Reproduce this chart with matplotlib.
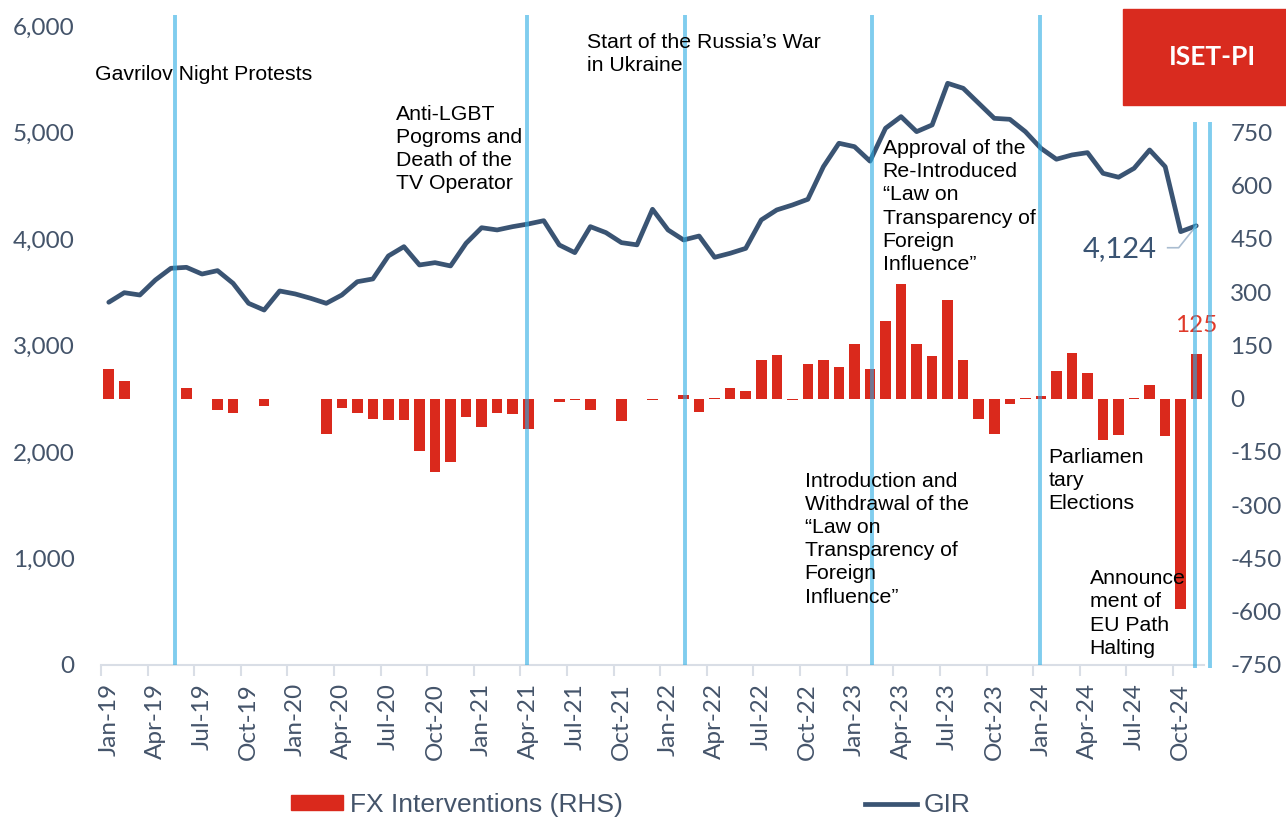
import numpy as np
import pandas as pd
import matplotlib.pyplot as plt
from matplotlib.lines import Line2D
from matplotlib.patches import Patch, Rectangle

plt.rcParams['font.family'] = ['Lato', 'DejaVu Sans']
plt.rcParams['axes.unicode_minus'] = False

# monthly data, Jan-19 .. Nov-24
months = pd.date_range("2019-01-01", periods=71, freq="MS").strftime("%b-%y").tolist()

gir = [3406, 3496, 3474, 3615, 3725, 3734, 3671, 3703, 3584, 3396,
       3333, 3512, 3484, 3443, 3396, 3474, 3599, 3625, 3841, 3928,
       3756, 3778, 3747, 3960, 4106, 4085, 4116, 4141, 4172, 3944,
       3872, 4116, 4060, 3966, 3945, 4279, 4085, 3991, 4028, 3828,
       3866, 3912, 4179, 4273, 4319, 4373, 4679, 4899, 4867, 4731,
       5040, 5149, 5008, 5071, 5462, 5415, 5274, 5133, 5124, 5008,
       4852, 4749, 4789, 4811, 4617, 4580, 4664, 4836, 4679, 4069,
       4124]

fx = [85, 50, 0, 0, 0, 29, 0, -33, -40, 0,
      -21, 0, 0, 0, -100, -25, -40, -56, -60, -60,
      -146, -205, -177, -51, -80, -40, -44, -84, 0, -9,
      -4, -31, 0, -62, -2, -3, -1, 11, -38, 3,
      31, 23, 110, 124, -4, 99, 110, 90, 155, 85,
      220, 322, 155, 120, 278, 110, -56, -99, -15, 2,
      8, 77, 128, 72, -117, -101, 2, 40, -106, -592,
      125]

# event markers (month index) and their labels
event_x = [4.24, 26.93, 37.12, 49.13, 59.92, 69.94, 70.91]
events = [
    (-0.89, 5540, "Gavrilov Night Protests"),
    (18.48, 4845, "Anti-LGBT\nPogroms and\nDeath of the\nTV Operator"),
    (30.77, 5737, "Start of the Russia\u2019s War\nin Ukraine"),
    (49.82, 4305, "Approval of the\nRe-Introduced\n\u201cLaw on\nTransparency of\nForeign\nInfluence\u201d"),
    (44.80, 1183, "Introduction and\nWithdrawal of the\n\u201cLaw on\nTransparency of\nForeign\nInfluence\u201d"),
    (60.50, 1732, "Parliamen\ntary\nElections"),
    (63.14, 484, "Announce\nment of\nEU Path\nHalting"),
]

navy = '#3A5473'
red = '#DA291C'
grey_txt = '#44546A'
axis_col = '#D9DEE6'

fig = plt.figure(figsize=(12.86, 8.17), dpi=100)
ax = fig.add_axes([0.07854, 0.18605, 0.8577, 0.78213])
ax2 = ax.twinx()

x = np.arange(len(months))
ax2.bar(x, fx, width=0.68, color=red, linewidth=0)
ax.plot(x, gir, color=navy, lw=3.4, solid_joinstyle='round',
        solid_capstyle='round', zorder=3)
ax.set_zorder(ax2.get_zorder() + 1)
ax.patch.set_visible(False)

ax.set_xlim(-0.5, len(months) - 0.5)
ax.set_ylim(0, 6000)
ax2.set_ylim(-750, 1050)

lticks = list(range(0, 6001, 1000))
ax.set_yticks(lticks)
ax.set_yticklabels([f'{v:,}' for v in lticks])
rticks = list(range(-750, 751, 150))
ax2.set_yticks(rticks)
ax2.set_yticklabels([str(v) for v in rticks])

ax.set_xticks(x[::3])
ax.set_xticklabels(months[::3], rotation=90, va='top', ha='center')
ax.set_xticks(x[::3] - 0.5, minor=True)
ax.tick_params(axis='x', which='major', length=0, pad=13, labelsize=17.5, colors=grey_txt)
ax.tick_params(axis='x', which='minor', length=8, width=1.5, color=axis_col)
ax.tick_params(axis='y', length=0, pad=19, labelsize=17.5, colors=grey_txt)
ax2.tick_params(axis='y', length=0, pad=19, labelsize=17.5, colors=grey_txt)

for s in ['top', 'left', 'right']:
    ax.spines[s].set_visible(False)
ax.spines['bottom'].set_color(axis_col)
ax.spines['bottom'].set_linewidth(1.5)
for s in ax2.spines.values():
    s.set_visible(False)

# event lines
ax.vlines(event_x[:5], 0, 6103, colors='#2BACE3', alpha=0.6, lw=2.8,
          clip_on=False, zorder=4)
ax.vlines(event_x[5:], -28, 5099, colors='#2BACE3', alpha=0.6, lw=2.8,
          clip_on=False, zorder=4)

for ex, ey, txt in events:
    ax.text(ex, ey, txt, fontsize=15.3, family='Liberation Sans', ha='left',
            va='center', linespacing=1.28, color='black', zorder=5)

# last value labels
ax.plot([68.16, 68.87, x[-1]], [3918, 3918, gir[-1]], color='#A9BCD0', lw=1.2, zorder=3)
ax.text(67.45, 3906, f'{gir[-1]:,}', ha='right', va='center', fontsize=21,
        color=navy)
ax2.annotate(f'{fx[-1]}', xy=(x[-1], fx[-1]), xytext=(0, 21),
             textcoords='offset points', ha='center', va='center',
             fontsize=17.5, color='#E03A2A')

# logo box
fig.patches.append(Rectangle((1123 / 1286, (817 - 105) / 817), 163 / 1286, 96 / 817,
                             transform=fig.transFigure, color='#D92B1F', zorder=0))
fig.text(1212.5 / 1286, (817 - 57) / 817, 'ISET-PI', color='white', fontsize=19,
         fontweight='bold', ha='center', va='center')

handles = [Patch(color=red), Line2D([], [], color=navy, lw=3.4)]
fig.legend(handles, ['FX Interventions (RHS)', 'GIR'], ncol=2, loc='center left',
           bbox_to_anchor=(291 / 1286, 12 / 817), frameon=False,
           prop={'family': 'Liberation Sans', 'size': 19}, labelcolor=grey_txt,
           handlelength=1.97, handleheight=0.5, handletextpad=0.25,
           columnspacing=9.2, borderpad=0, borderaxespad=0)

fig.savefig('out.png', dpi=100)
